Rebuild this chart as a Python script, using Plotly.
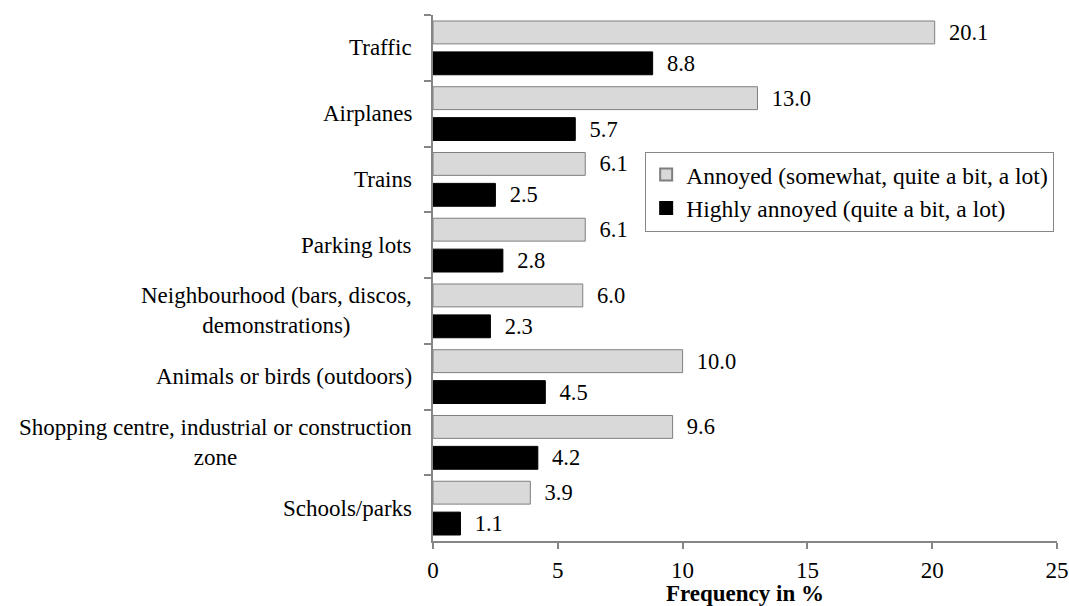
import plotly.graph_objects as go

categories = [
    "Traffic",
    "Airplanes",
    "Trains",
    "Parking lots",
    "Neighbourhood (bars, discos,<br>demonstrations)",
    "Animals or birds (outdoors)",
    "Shopping centre, industrial or construction<br>zone",
    "Schools/parks",
]
annoyed = [20.1, 13.0, 6.1, 6.1, 6.0, 10.0, 9.6, 3.9]
highly_annoyed = [8.8, 5.7, 2.5, 2.8, 2.3, 4.5, 4.2, 1.1]
series_names = ["Annoyed (somewhat, quite a bit, a lot)", "Highly annoyed (quite a bit, a lot)"]
x_ticks = [0, 5, 10, 15, 20, 25]

FONT = "Liberation Serif"
AXIS_GRAY = "#868686"
NBSP = "\u00a0\u00a0"

fig = go.Figure()
fig.add_trace(go.Bar(
    y=categories, x=annoyed, orientation="h", name=series_names[0],
    marker=dict(color="#d9d9d9", line=dict(color="#7f7f7f", width=1)),
    text=[NBSP + f"{v:.1f}" for v in annoyed], textposition="outside",
    textfont=dict(family=FONT, size=22.5, color="black"),
    constraintext="none", cliponaxis=False,
))
fig.add_trace(go.Bar(
    y=categories, x=highly_annoyed, orientation="h", name=series_names[1],
    marker=dict(color="black", line=dict(color="black", width=1)),
    text=[NBSP + f"{v:.1f}" for v in highly_annoyed], textposition="outside",
    textfont=dict(family=FONT, size=22.5, color="black"),
    constraintext="none", cliponaxis=False,
))

for c in categories:
    fig.add_annotation(
        x=0, xref="paper", y=c, yref="y", text=c, showarrow=False,
        xanchor="right", yanchor="middle", align="center", xshift=-19,
        font=dict(family=FONT, size=23, color="black"),
    )

fig.update_layout(
    width=1069, height=606,
    margin=dict(l=433, r=12, t=15, b=65, autoexpand=False),
    paper_bgcolor="white", plot_bgcolor="white",
    barmode="group", bargap=0.06, bargroupgap=0.26,
    font=dict(family=FONT, size=23, color="black"),
    showlegend=True,
    legend=dict(
        x=0.34, y=0.74, xanchor="left", yanchor="top",
        bgcolor="white", bordercolor=AXIS_GRAY, borderwidth=1,
        traceorder="normal", font=dict(family=FONT, size=23.5, color="black"),
        itemsizing="constant", tracegroupgap=0, itemwidth=30,
    ),
    xaxis=dict(
        range=[0, 25], tickvals=x_ticks, ticktext=[str(t) for t in x_ticks],
        automargin=False,
        showgrid=False, zeroline=False, showline=True, linecolor=AXIS_GRAY, linewidth=1.5,
        ticks="outside", ticklen=6, tickcolor=AXIS_GRAY, tickwidth=1.5,
        ticklabelstandoff=2,
        tickfont=dict(family=FONT, size=23, color="black"),
        title=dict(text="<b>Frequency in %</b>", font=dict(family=FONT, size=23, color="black"), standoff=16),
    ),
    yaxis=dict(
        autorange="reversed", showticklabels=False, showgrid=False, zeroline=False,
        automargin=False,
        showline=True, linecolor=AXIS_GRAY, linewidth=1.5,
        ticks="outside", ticklen=7, tickcolor=AXIS_GRAY, tickwidth=1.5, tickson="boundaries",
        mirror=False,
    ),
)

fig.write_html(
    "out.html",
    config={"displayModeBar": False},
    post_script="document.body.style.margin='0';document.body.style.overflow='hidden';",
)
